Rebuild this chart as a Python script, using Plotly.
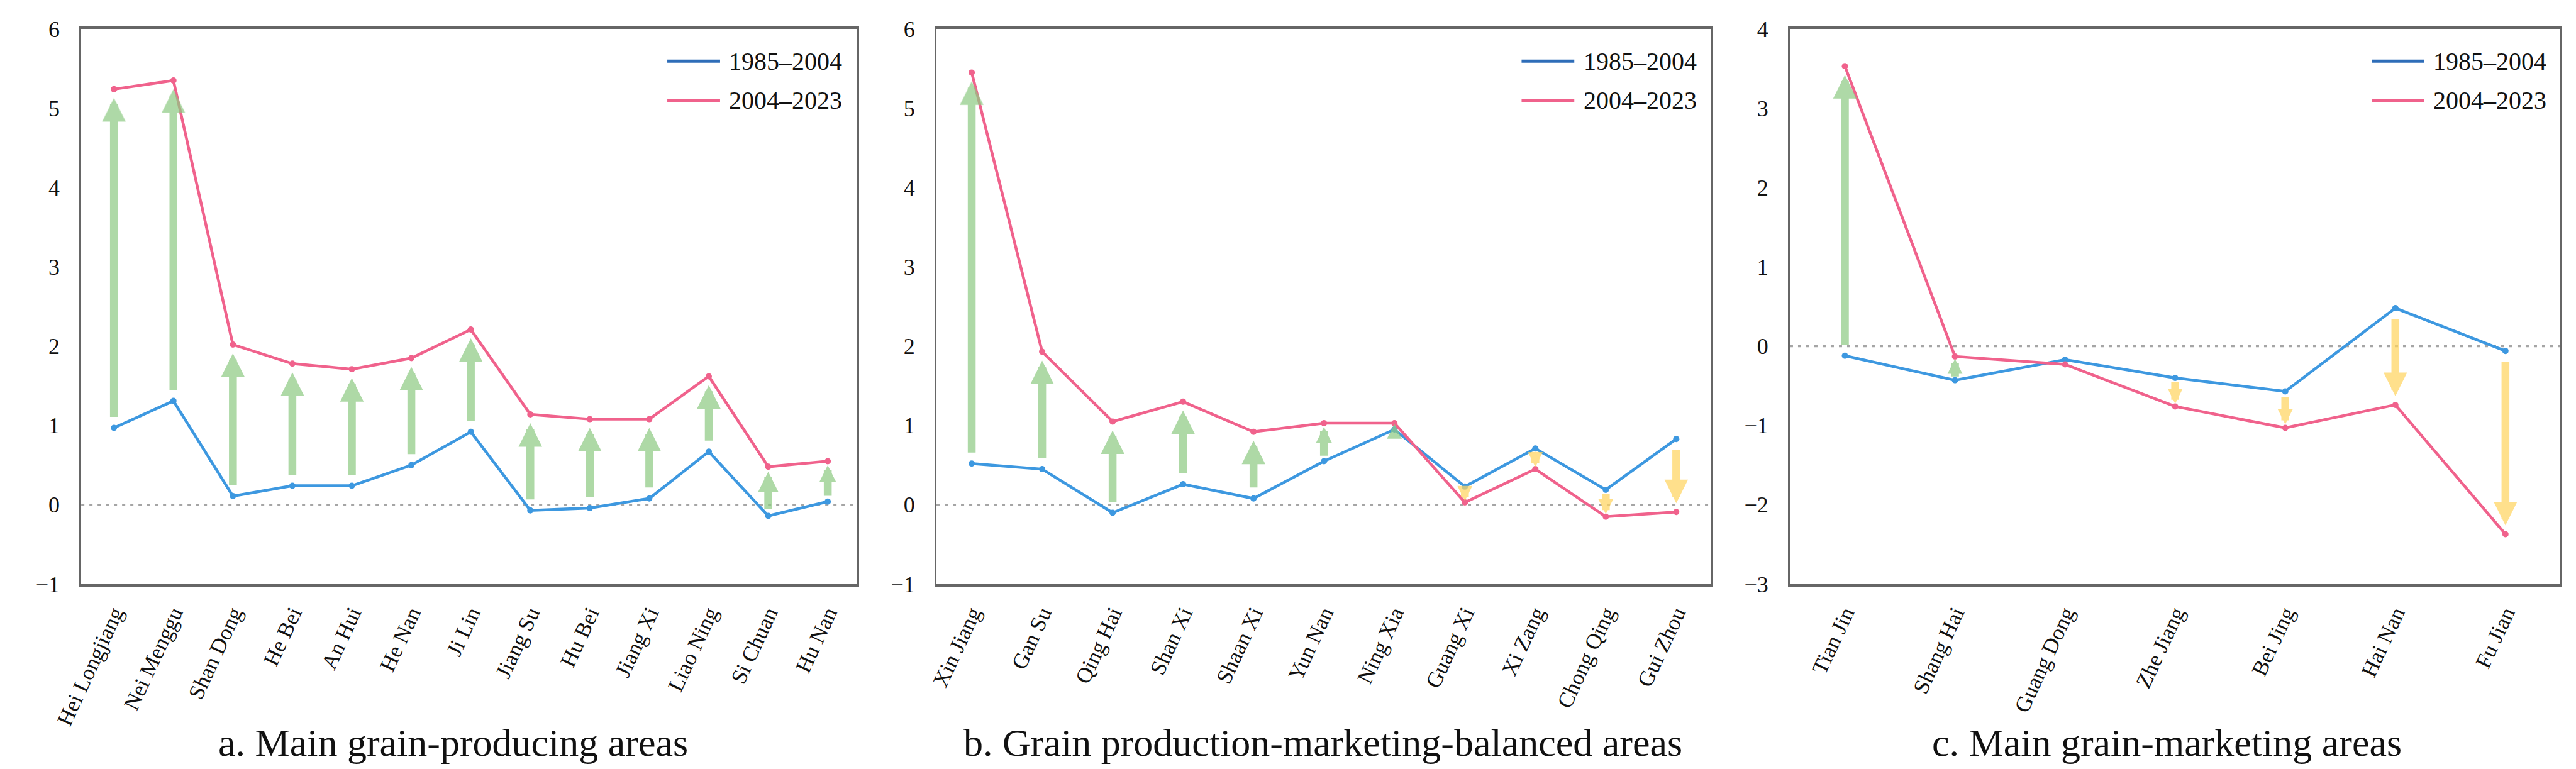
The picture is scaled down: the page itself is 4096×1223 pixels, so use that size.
import plotly.graph_objects as go

# 主产区 / 产销平衡区 / 主销区
areas_a = ["Hei Longjiang", "Nei Menggu", "Shan Dong", "He Bei", "An Hui", "He Nan", "Ji Lin",
           "Jiang Su", "Hu Bei", "Jiang Xi", "Liao Ning", "Si Chuan", "Hu Nan"]
a_1985 = [0.97, 1.31, 0.11, 0.24, 0.24, 0.50, 0.92, -0.07, -0.04, 0.08, 0.67, -0.14, 0.04]
a_2004 = [5.24, 5.35, 2.02, 1.78, 1.71, 1.85, 2.21, 1.14, 1.08, 1.08, 1.62, 0.48, 0.55]

areas_b = ["Xin Jiang", "Gan Su", "Qing Hai", "Shan Xi", "Shaan Xi", "Yun Nan", "Ning Xia",
           "Guang Xi", "Xi Zang", "Chong Qing", "Gui Zhou"]
b_1985 = [0.52, 0.45, -0.10, 0.26, 0.08, 0.55, 0.95, 0.23, 0.71, 0.19, 0.83]
b_2004 = [5.45, 1.93, 1.05, 1.30, 0.92, 1.03, 1.03, 0.03, 0.45, -0.15, -0.09]

areas_c = ["Tian Jin", "Shang Hai", "Guang Dong", "Zhe Jiang", "Bei Jing", "Hai Nan", "Fu Jian"]
c_1985 = [-0.12, -0.43, -0.17, -0.40, -0.57, 0.48, -0.06]
c_2004 = [3.53, -0.13, -0.23, -0.76, -1.03, -0.74, -2.37]

period_names = ["1985\u20132004", "2004\u20132023"]
subtitles = ["a. Main grain-producing areas",
             "b. Grain production-marketing-balanced areas",
             "c. Main grain-marketing areas"]

W, H = 4096, 1223
TOP, BOTTOM = 38, 302
plot_h = H - TOP - BOTTOM

blue = "#3D98E0"
pink = "#F0628C"
blue_legend = "#2E6DB8"
green_arrow = "#8FCB85"
yellow_arrow = "#FFD560"
font = "Liberation Serif, Times New Roman, serif"

panels = [
    dict(names=areas_a, v1=a_1985, v2=a_2004, dom=(77, 1325), xr=[-0.55, 12.5], yr=[-1, 6],
         dt=[-1, 0, 1, 2, 3, 4, 5, 6], sub_x=675),
    dict(names=areas_b, v1=b_1985, v2=b_2004, dom=(1452, 2698), xr=[-0.5, 10.5], yr=[-1, 6],
         dt=[-1, 0, 1, 2, 3, 4, 5, 6], sub_x=2073),
    dict(names=areas_c, v1=c_1985, v2=c_2004, dom=(2824, 4063), xr=[-0.5, 6.5], yr=[-3, 4],
         dt=[-3, -2, -1, 0, 1, 2, 3, 4], sub_x=3430),
]

fig = go.Figure()
annotations = []
shapes = []

for i, p in enumerate(panels):
    k = "" if i == 0 else str(i + 1)
    xa, ya = "x" + k, "y" + k
    fig.add_trace(go.Scatter(x=p["names"], y=p["v1"], mode="lines+markers", xaxis=xa, yaxis=ya,
                             line=dict(color=blue, width=4.5), marker=dict(size=10, color=blue),
                             name=period_names[0], showlegend=False))
    fig.add_trace(go.Scatter(x=p["names"], y=p["v2"], mode="lines+markers", xaxis=xa, yaxis=ya,
                             line=dict(color=pink, width=4.5), marker=dict(size=10, color=pink),
                             name=period_names[1], showlegend=False))

    px_per_unit = plot_h / (p["yr"][1] - p["yr"][0])

    # 变化箭头
    for j, (v1, v2) in enumerate(zip(p["v1"], p["v2"])):
        L = abs(v2 - v1) * px_per_unit
        if L > 90:
            size, st, sst = 0.6, 14, 16
        else:
            size, st, sst = max(0.38, 0.6 * L / 90), 0.1 * L, 0.12 * L
        annotations.append(dict(
            x=j, y=v2, ax=j, ay=v1, xref=xa, yref=ya, axref=xa, ayref=ya,
            text="", showarrow=True, arrowhead=2, arrowwidth=12.5, arrowsize=size,
            arrowcolor=green_arrow if v2 > v1 else yellow_arrow,
            standoff=st, startstandoff=sst, opacity=0.72))

    # 零线
    shapes.append(dict(type="line", xref=xa + " domain", yref=ya, x0=0, x1=1, y0=0, y1=0,
                       line=dict(color="#A5A5A5", width=3.5, dash="5px,8px"), layer="below"))

    # 图例
    for r, (col, lab) in enumerate(zip([blue_legend, pink], period_names)):
        yy = 0.942 - r * 0.071
        shapes.append(dict(type="line", xref=xa + " domain", yref=ya + " domain",
                           x0=0.755, x1=0.823, y0=yy, y1=yy, line=dict(color=col, width=5)))
        annotations.append(dict(x=0.833, y=yy, xref=xa + " domain", yref=ya + " domain",
                                text=lab, showarrow=False, xanchor="left", yanchor="middle",
                                font=dict(family=font, size=40, color="#111111")))

    # 分图标题
    annotations.append(dict(x=p["sub_x"] / W, y=-0.2854, xref="paper", yref="paper",
                            text=subtitles[i], showarrow=False,
                            xanchor="center", yanchor="middle",
                            font=dict(family=font, size=62, color="#111111")))

    fig.layout["xaxis" + k] = dict(
        domain=[p["dom"][0] / W, p["dom"][1] / W], anchor=ya, range=p["xr"],
        type="category", tickangle=-65, showgrid=False, zeroline=False,
        showline=True, mirror=True, linecolor="#666666", linewidth=4, ticks="",
        ticklabelstandoff=8, tickfont=dict(family=font, size=35, color="#111111"))
    fig.layout["yaxis" + k] = dict(
        domain=[0, 1], anchor=xa, range=p["yr"], tickvals=p["dt"], showgrid=False,
        zeroline=False, showline=True, mirror=True, linecolor="#666666", linewidth=3,
        ticks="", ticklabelstandoff=24, tickfont=dict(family=font, size=36, color="#111111"))

fig.update_layout(
    width=W, height=H, margin=dict(l=0, r=0, t=TOP, b=BOTTOM),
    plot_bgcolor="white", paper_bgcolor="white",
    annotations=annotations, shapes=shapes, showlegend=False,
)

fig.write_html("out.html")
